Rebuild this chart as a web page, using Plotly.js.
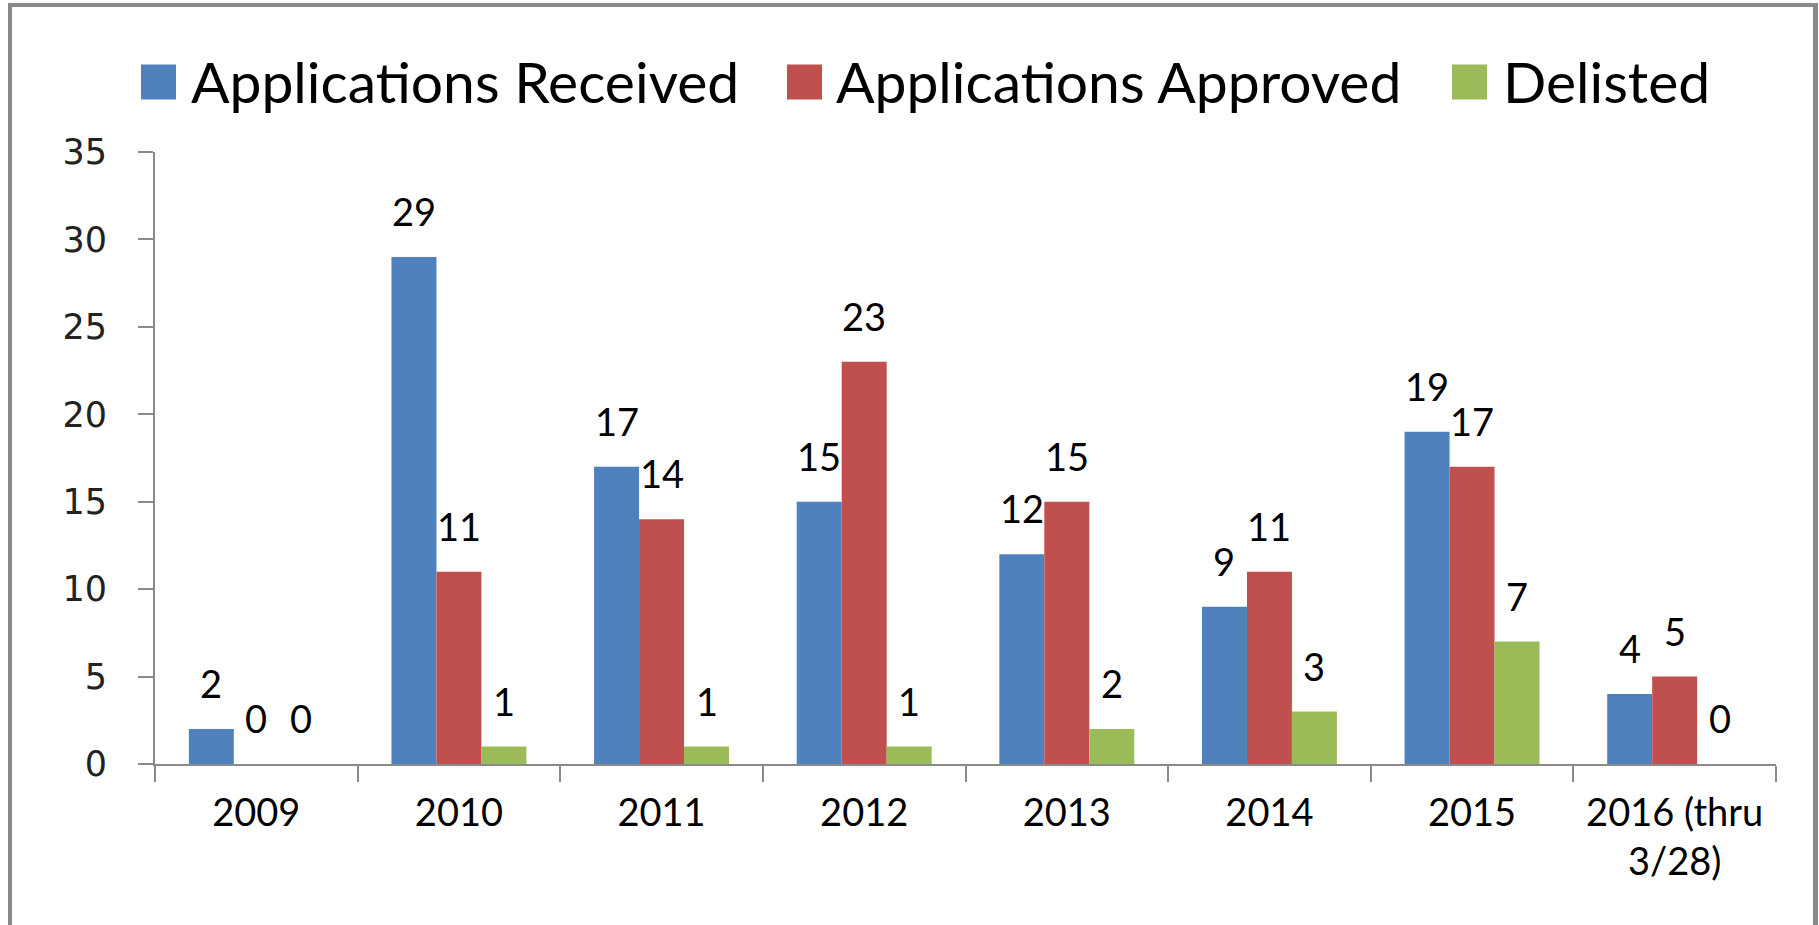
<!DOCTYPE html>
<html><head><meta charset="utf-8">
<script src="https://cdn.plot.ly/plotly-3.0.1.min.js"></script>
<style>
html,body{margin:0;padding:0;background:#fff;overflow:hidden;}
#chart{width:1819px;height:925px;}
#frame{position:absolute;left:8px;top:3px;width:1810px;height:940px;box-sizing:border-box;border-style:solid;border-color:#8a8a8a;border-width:4px 5px 0 4px;pointer-events:none;}
</style></head><body>
<div id="chart"></div><div id="frame"></div>
<script>
// ---- data ----
const years = ["2009","2010","2011","2012","2013","2014","2015","2016 (thru<br>3/28)"];
const received = [2,29,17,15,12,9,19,4];
const approved = [0,11,14,23,15,11,17,5];
const delisted = [0,1,1,1,2,3,7,0];
const seriesNames = ["Applications Received","Applications Approved","Delisted"];
const seriesColors = ["#4F81BD","#C0504D","#9BBB59"];
const yTicks = [0,5,10,15,20,25,30,35];

// ---- layout constants ----
const W = 1819, H = 925;
const M = {l:155, r:43, t:152, b:161};
const PW = W - M.l - M.r, PH = H - M.t - M.b;
const BARGAP = 0.334;
const barW = (1 - BARGAP) / 3;
const labelFont = {family:"Lato, 'Open Sans', sans-serif", size:38, color:"#000"};
const legendFont = {family:"Lato, 'Open Sans', sans-serif", size:57, color:"#000"};

const series = [received, approved, delisted];
const traces = series.map((vals, s) => ({
  type:"bar", x: years, y: vals, name: seriesNames[s],
  marker:{color: seriesColors[s], line:{width:0}},
  showlegend:false, hoverinfo:"none"
}));

// data labels: through the axes (category index + group offset, value)
const annotations = [];
series.forEach((vals, s) => {
  vals.forEach((v, i) => {
    annotations.push({
      xref:"x", yref:"y", x: i + (s - 1) * barW, y: v,
      text: String(v), showarrow:false, xanchor:"center", yanchor:"bottom",
      yshift: 21, font: labelFont
    });
  });
});

// manual legend (large swatches)
const px2x = p => (p - M.l) / PW;
const py2y = p => (H - M.b - p) / PH;
const legSwatchX = [141, 787, 1452];
const legTextX = [189, 834, 1501];
const legCY = 82, sw = 35;
const shapes = [];
seriesNames.forEach((n, s) => {
  shapes.push({type:"rect", xref:"paper", yref:"paper",
    x0:px2x(legSwatchX[s]), x1:px2x(legSwatchX[s]+sw),
    y0:py2y(legCY+sw/2), y1:py2y(legCY-sw/2),
    fillcolor: seriesColors[s], line:{width:0}});
  annotations.push({xref:"paper", yref:"paper", x:px2x(legTextX[s]), y:py2y(legCY-1),
    text:n, showarrow:false, xanchor:"left", yanchor:"middle", font:legendFont});
});

const layout = {
  width: W, height: H,
  margin: {l:M.l, r:M.r, t:M.t, b:M.b, pad:0},
  paper_bgcolor:"#fff", plot_bgcolor:"#fff",
  barmode:"group", bargap: BARGAP, bargroupgap: 0,
  showlegend:false,
  xaxis:{
    type:"category", showline:true, linecolor:"#8a8a8a", linewidth:2,
    ticks:"outside", ticklen:16, tickwidth:2, tickcolor:"#8a8a8a",
    tickson:"boundaries", showgrid:false, zeroline:false,
    tickfont: labelFont, ticklabelstandoff: 14
  },
  yaxis:{
    range:[0,35], tickvals: yTicks, ticktext: yTicks.map(String),
    showline:true, linecolor:"#8a8a8a", linewidth:2,
    ticks:"outside", ticklen:15, tickwidth:2, tickcolor:"#8a8a8a",
    showgrid:false, zeroline:false,
    tickfont:{family:"'DejaVu Sans', Verdana, sans-serif", size:35, color:"#222"},
    ticklabelstandoff: 24
  },
  shapes: shapes,
  annotations: annotations
};

Plotly.newPlot("chart", traces, layout, {staticPlot:true, displayModeBar:false});
</script>
</body></html>
